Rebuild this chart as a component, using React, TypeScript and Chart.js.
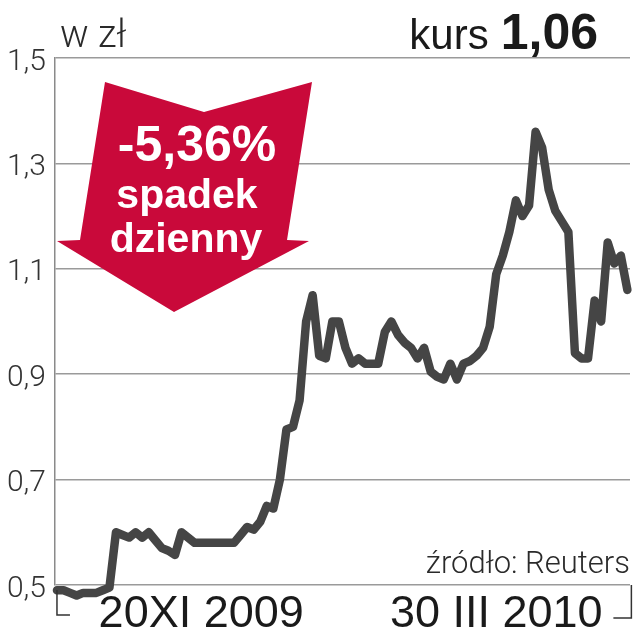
import React, { useEffect, useRef } from "react";
import { Chart, registerables } from "chart.js";

Chart.register(...registerables);

// Daily price (zł), 20 XI 2009 – 30 III 2010 period
const prices: number[] = [
  0.49, 0.49, 0.485, 0.48, 0.485, 0.485, 0.485, 0.49, 0.495, 0.6,
  0.595, 0.59, 0.6, 0.59, 0.6, 0.585, 0.57, 0.565, 0.557, 0.6,
  0.59, 0.58, 0.58, 0.58, 0.58, 0.58, 0.58, 0.58, 0.595, 0.61,
  0.605, 0.62, 0.65, 0.645, 0.7, 0.795, 0.8, 0.85, 1.0, 1.05,
  0.935, 0.93, 1.0, 1.0, 0.95, 0.92, 0.93, 0.92, 0.92, 0.92,
  0.98, 1.0, 0.975, 0.96, 0.95, 0.93, 0.95, 0.905, 0.895, 0.89,
  0.92, 0.89, 0.92, 0.925, 0.935, 0.95, 0.99, 1.09, 1.125, 1.17,
  1.23, 1.2, 1.22, 1.36, 1.33, 1.25, 1.21, 1.19, 1.17, 0.94,
  0.93, 0.93, 1.04, 1.0, 1.15, 1.11, 1.125, 1.06,
];
const dayIndex: number[] = prices.map((_, i) => i);

const yMin = 0.5;
const yMax = 1.5;
const yStep = 0.2;

const xTickLabels: string[] = ["20XI 2009", "30 III 2010"];
const xTickDays: number[] = [22, 67];

const unitLabel = "w zł";
const rateLabel = "kurs";
const rateValue = "1,06";
const changeLabel = "-5,36%";
const changeLines: string[] = ["spadek", "dzienny"];
const sourceLabel = "źródło: Reuters";

const FONT = "'Liberation Sans', Arial, sans-serif";
const LIGHT = "Roboto, 'Liberation Sans', sans-serif";

const overlayPlugin = {
  id: "overlay",
  beforeDatasetsDraw(chart: any) {
    const ctx = chart.ctx as CanvasRenderingContext2D;
    ctx.save();
    // red arrow
    ctx.fillStyle = "#c9093a";
    ctx.beginPath();
    ctx.moveTo(105, 82);
    ctx.lineTo(204, 112);
    ctx.lineTo(312, 82);
    ctx.lineTo(287, 240);
    ctx.lineTo(309, 241);
    ctx.lineTo(174, 312);
    ctx.lineTo(57, 241);
    ctx.lineTo(80, 240);
    ctx.closePath();
    ctx.fill();
    ctx.fillStyle = "#ffffff";
    ctx.textAlign = "center";
    ctx.textBaseline = "alphabetic";
    ctx.font = `bold 50px ${FONT}`;
    ctx.fillText(changeLabel, 197, 161);
    ctx.font = `bold 41px ${FONT}`;
    ctx.fillText(changeLines[0], 187, 208);
    ctx.fillText(changeLines[1], 186, 252);
    ctx.restore();
  },
  afterDraw(chart: any) {
    const ctx = chart.ctx as CanvasRenderingContext2D;
    const x = chart.scales.x;
    const y = chart.scales.y;
    ctx.save();
    ctx.fillStyle = "#2a2a2a";
    ctx.textBaseline = "alphabetic";
    ctx.textAlign = "left";
    ctx.font = `300 38px ${LIGHT}`;
    ctx.fillText(unitLabel, 60, 47);
    ctx.fillStyle = "#1a1a1a";
    ctx.textAlign = "right";
    ctx.font = `bold 50px ${FONT}`;
    ctx.fillText(rateValue, 598, 49);
    const w = ctx.measureText(rateValue).width;
    ctx.font = `42px ${FONT}`;
    ctx.fillText(rateLabel, 598 - w - 12, 49);
    ctx.fillStyle = "#2a2a2a";
    ctx.font = `300 31px ${LIGHT}`;
    ctx.fillText(sourceLabel, 630, 573);
    // end brackets
    ctx.strokeStyle = "#333333";
    ctx.lineWidth = 1.5;
    const x0 = x.getPixelForValue(dayIndex[0]);
    const x1 = x.getPixelForValue(dayIndex[dayIndex.length - 1]);
    const yb = y.getPixelForValue(yMin);
    ctx.beginPath();
    ctx.moveTo(x0, yb + 5);
    ctx.lineTo(x0, yb + 30);
    ctx.lineTo(x0 + 13, yb + 30);
    ctx.moveTo(x1 + 4, yb);
    ctx.lineTo(x1 + 4, yb + 33);
    ctx.lineTo(x1 - 14, yb + 33);
    ctx.stroke();
    ctx.restore();
  },
};

export default function App() {
  const ref = useRef<HTMLCanvasElement | null>(null);
  useEffect(() => {
    document.body.style.margin = "0";
    const canvas = ref.current;
    if (!canvas) return;
    const chart = new Chart(canvas, {
      type: "line",
      data: {
        labels: dayIndex,
        datasets: [
          {
            data: dayIndex.map((d, i) => ({ x: d, y: prices[i] })),
            borderColor: "#454545",
            borderWidth: 8.5,
            borderJoinStyle: "round",
            borderCapStyle: "round",
            pointRadius: 0,
            tension: 0,
            fill: false,
            clip: false as any,
          },
        ],
      },
      options: {
        responsive: false,
        animation: false,
        layout: { padding: { top: 58, right: 3, left: 0, bottom: 0 } },
        plugins: { legend: { display: false }, tooltip: { enabled: false } },
        scales: {
          x: {
            type: "linear",
            min: -0.3,
            max: 87.4,
            grid: { display: false, drawTicks: false },
            border: { display: false },
            afterBuildTicks: (scale: any) => {
              scale.ticks = xTickDays.map((v) => ({ value: v }));
            },
            afterFit: (scale: any) => {
              scale.height = 55;
            },
            ticks: {
              autoSkip: false,
              maxRotation: 0,
              padding: 3,
              color: "#1a1a1a",
              font: { family: FONT, size: 45 },
              callback: (v: any) => xTickLabels[xTickDays.indexOf(Number(v))] ?? "",
            },
          },
          y: {
            min: yMin,
            max: yMax,
            afterFit: (scale: any) => {
              scale.width = 55;
            },
            grid: { color: "#9a9a9a", lineWidth: 1.5, drawTicks: false },
            border: { display: true, color: "#8a8a8a", width: 1.5 },
            ticks: {
              stepSize: yStep,
              padding: 9,
              labelOffset: 4,
              color: "#333333",
              font: { family: LIGHT, size: 30, weight: "300" as any },
              callback: (v: any) => Number(v).toFixed(1).replace(".", ","),
            },
          },
        },
      },
      plugins: [overlayPlugin],
    });
    return () => chart.destroy();
  }, []);
  return <canvas ref={ref} width={633} height={640} style={{ display: "block" }} />;
}
